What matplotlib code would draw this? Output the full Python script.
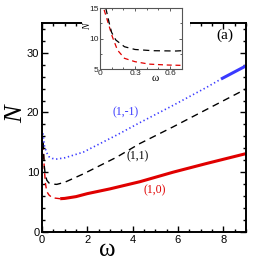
import matplotlib
matplotlib.use("Agg")
import matplotlib.pyplot as plt
from matplotlib.patches import Rectangle
from matplotlib.ticker import MultipleLocator

# (1,0) branch, dashed (unstable) then solid
w10_dash = [0.036, 0.076, 0.106, 0.15, 0.21, 0.3, 0.42, 0.58, 0.8]
n10_dash = [14.7, 12.2, 10.3, 8.1, 6.75, 6.2, 5.8, 5.65, 5.55]
w10_solid = [0.8, 1.0, 1.5, 2.0, 3.0, 4.32, 5.79, 7.26, 9.0]
n10_solid = [5.55, 5.6, 5.9, 6.4, 7.2, 8.4, 10.0, 11.45, 13.1]

# (1,1) branch, dashed
w11 = [0.05, 0.08, 0.1, 0.136, 0.21, 0.3, 0.45, 0.65, 1.0, 1.82, 3.29, 4.32, 5.79, 7.26, 8.73, 9.0]
n11 = [15.0, 12.5, 11.0, 9.75, 8.65, 8.2, 8.0, 7.95, 8.3, 9.7, 12.5, 14.8, 17.6, 20.5, 23.4, 23.95]

# (1,-1) branch, dotted then solid
w1m_dot = [0.04, 0.1, 0.2, 0.3, 0.45, 0.65, 1.0, 1.82, 3.29, 4.32, 5.79, 7.26, 7.9]
n1m_dot = [16.5, 14.5, 13.3, 12.6, 12.3, 12.2, 12.4, 13.35, 16.2, 18.3, 21.2, 24.2, 25.6]
w1m_solid = [7.9, 9.0]
n1m_solid = [25.6, 27.8]

red = "#e00000"
blue = "#3a3aff"

fig = plt.figure(figsize=(2.73, 2.76), dpi=100)
ax = fig.add_axes([0.154, 0.16, 0.747, 0.757])

ax.plot(w10_dash, n10_dash, color=red, lw=1.0, ls=(0, (4, 3)))
ax.plot(w10_solid, n10_solid, color=red, lw=2.2, solid_capstyle="butt")
ax.plot(w11, n11, color="black", lw=1.0, ls=(0, (5, 3.5)))
ax.plot(w1m_dot, n1m_dot, color=blue, lw=1.2, ls=(0, (0.8, 1.6)))
ax.plot(w1m_solid, n1m_solid, color=blue, lw=2.2, solid_capstyle="butt")

ax.set_xlim(0, 9)
ax.set_ylim(0, 35)
ax.xaxis.set_major_locator(MultipleLocator(2))
ax.xaxis.set_minor_locator(MultipleLocator(0.5))
ax.yaxis.set_major_locator(MultipleLocator(10))
ax.yaxis.set_minor_locator(MultipleLocator(2))
ax.tick_params(which="both", direction="in", top=True, right=True, width=1.0)
ax.tick_params(which="major", length=4, labelsize=8, pad=2)
ax.tick_params(which="minor", length=2)
for lab in ax.get_xticklabels() + ax.get_yticklabels():
    lab.set_family("Liberation Sans")
for s in ax.spines.values():
    s.set_linewidth(1.4)

ax.set_xlabel("ω", family="Liberation Serif", fontsize=18, labelpad=0)
ax.xaxis.set_label_coords(0.32, -0.035)
ax.set_ylabel("N", family="Liberation Serif", style="italic", fontsize=19)
ax.yaxis.set_label_coords(-0.075, 0.565)

serif = dict(family="Liberation Serif", fontsize=8.5, ha="center", va="center")
ax.text(3.67, 20.0, "(1,-1)", color=blue, **serif)
ax.text(4.24, 12.6, "(1,1)", color="black", **serif)
ax.text(4.95, 6.9, "(1,0)", color=red, **serif)
ax.text(8.05, 33.0, "(a)", family="Liberation Serif", fontsize=11, ha="center", va="center")

# white box behind inset that hides the top frame
fig.add_artist(Rectangle((0.30, 0.71), 0.396, 0.29, transform=fig.transFigure,
                         facecolor="white", edgecolor="none", zorder=1))

ins = fig.add_axes([0.366, 0.75, 0.300, 0.221], zorder=2)
ins.plot(w10_dash, n10_dash, color=red, lw=0.9, ls=(0, (4, 3)))
ins.plot(w11, n11, color="black", lw=0.9, ls=(0, (5, 3.5)))
ins.set_xlim(0, 0.7)
ins.set_ylim(5, 15)
ins.set_xticks([0, 0.3, 0.6])
ins.set_xticklabels(["0", "0.3", "0.6"])
ins.set_yticks([5, 10, 15])
ins.xaxis.set_minor_locator(MultipleLocator(0.1))
ins.yaxis.set_minor_locator(MultipleLocator(2.5))
ins.tick_params(which="both", direction="in", top=True, right=True, width=0.6, colors="#444444",
                labelcolor="#222222")
ins.tick_params(which="major", length=2.5, labelsize=6, pad=1)
ins.tick_params(which="minor", length=1.3)
for lab in ins.get_xticklabels() + ins.get_yticklabels():
    lab.set_family("Liberation Sans")
for s in ins.spines.values():
    s.set_linewidth(0.8)
    s.set_color("#555555")
ins.set_xlabel("ω", family="Liberation Serif", fontsize=8, labelpad=0)
ins.xaxis.set_label_coords(0.67, -0.08)
ins.set_ylabel("N", family="Liberation Serif", style="italic", fontsize=7, labelpad=0)
ins.yaxis.set_label_coords(-0.1, 0.7)

fig.savefig("out.png", dpi=100)
